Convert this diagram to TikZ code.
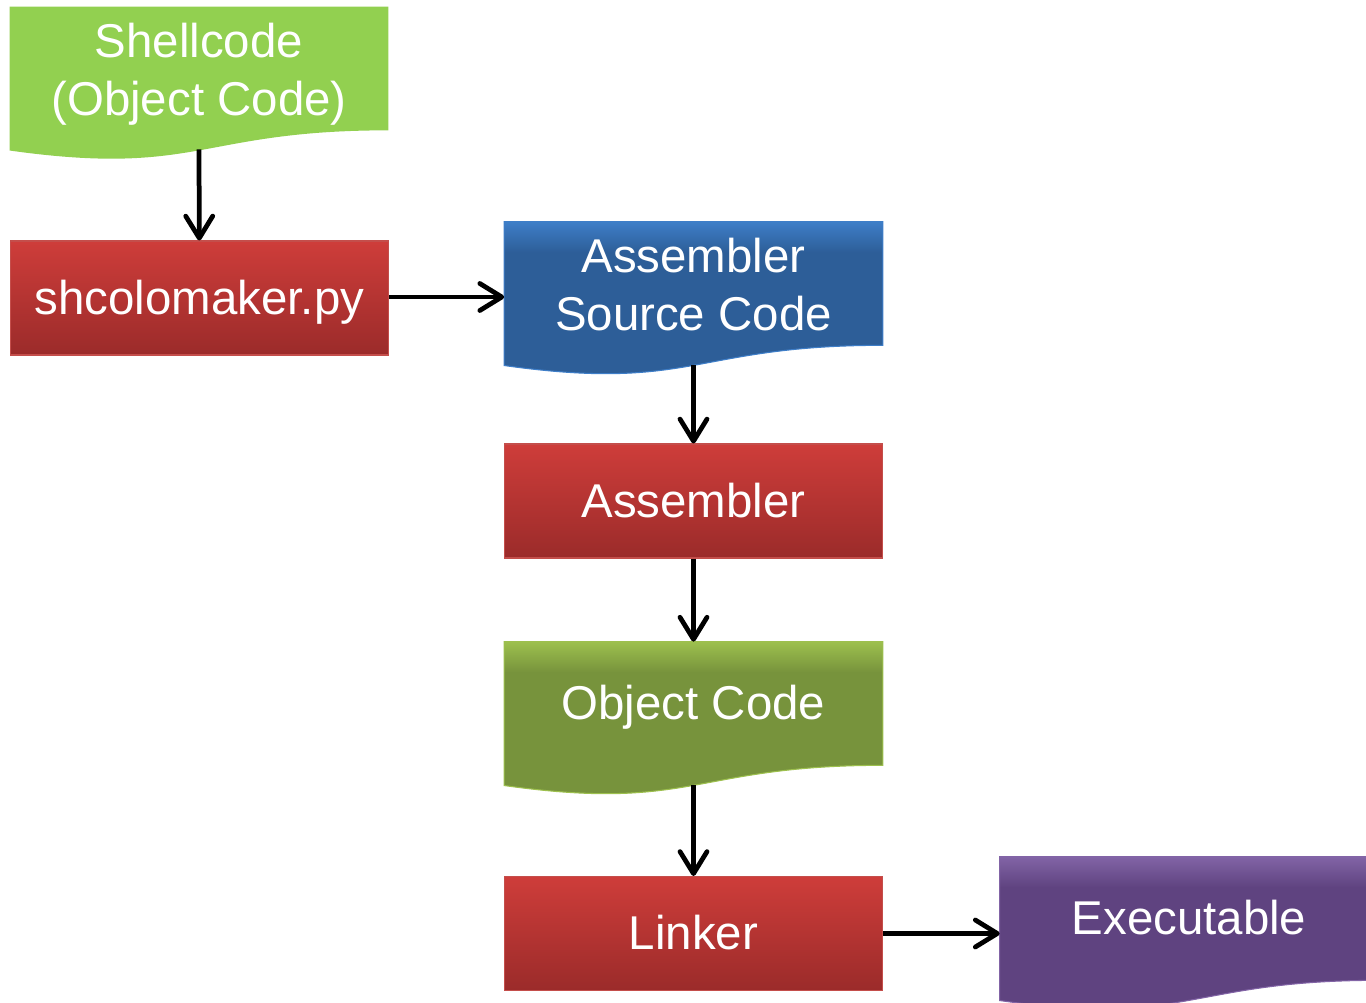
\documentclass[tikz,border=0pt]{standalone}
\usepackage{fontspec}
\setmainfont{Liberation Sans}
\usetikzlibrary{arrows.meta, calc, backgrounds}

\definecolor{procTop}{RGB}{206,61,58}
\definecolor{procBot}{RGB}{155,43,42}
\definecolor{procLine}{RGB}{196,78,75}
\definecolor{shellGreen}{RGB}{146,208,80}
\definecolor{srcBlue}{RGB}{45,94,152}
\definecolor{srcBlueTop}{RGB}{62,126,200}
\definecolor{objGreen}{RGB}{119,147,60}
\definecolor{objGreenTop}{RGB}{157,192,78}
\definecolor{exePurple}{RGB}{95,67,128}
\definecolor{exePurpleTop}{RGB}{130,100,166}

\pgfdeclareverticalshading{srcShade}{100bp}{color(0bp)=(srcBlue); color(66bp)=(srcBlue); color(75bp)=(srcBlueTop); color(100bp)=(srcBlueTop)}
\pgfdeclareverticalshading{objShade}{100bp}{color(0bp)=(objGreen); color(66bp)=(objGreen); color(75bp)=(objGreenTop); color(100bp)=(objGreenTop)}
\pgfdeclareverticalshading{exeShade}{100bp}{color(0bp)=(exePurple); color(66bp)=(exePurple); color(75bp)=(exePurpleTop); color(100bp)=(exePurpleTop)}

% struts, so that nodes are centred on the line boxes and not on the ink
\newcommand\topStrut{\rule{0pt}{0.905em}}
\newcommand\botStrut{\rule[-0.212em]{0pt}{0pt}}
\newcommand\tallLine{\rule{0pt}{0.97em}}
% outline of a document: flat top, wavy bottom under the node
\newcommand\docpath[1]{(#1.north west) -- (#1.north east) -- (#1.south east)
  .. controls (#1.south) and ([yshift=-0.935cm]#1.south) .. ([yshift=-0.404cm]#1.south west) -- cycle}

\begin{document}
\begin{tikzpicture}[x=0.02cm, y=-0.02cm,
    every node/.style={text=white, align=center, font=\fontsize{27}{33}\selectfont,
      execute at begin node=\topStrut, execute at end node=\botStrut},
    proc/.style={rectangle, minimum width=7.58cm, minimum height=2.28cm, inner sep=0pt,
      top color=procTop, bottom color=procBot, draw=procLine, line width=0.6pt},
    doc/.style={rectangle, minimum width=7.56cm, minimum height=2.46cm, inner sep=0pt},
    flow/.style={-{Straight Barb[round, length=0.44cm, width=0.54cm]}, line width=0.095cm}]
  \useasboundingbox (0,0) rectangle (1366,1003);

  \node[doc] (shell) at (199,68.5) {\tallLine Shellcode\\(Object Code)};
  \node[proc] (shco) at (199.5,298) {shcolomaker.py};
  \node[doc] (asrc) at (693.5,283.5) {\tallLine Assembler\\Source Code};
  \node[proc] (asm) at (693.5,501) {Assembler};
  \node[doc] (obj) at (693.5,703.5) {Object Code};
  \node[proc] (link) at (693.5,933.5) {Linker};
  \node[doc] (exe) at (1189,918.5) {Executable};

  \begin{scope}[on background layer]
    \fill[shellGreen] \docpath{shell};
    \shade[shading=srcShade, draw=srcBlueTop, line width=0.6pt] \docpath{asrc};
    \shade[shading=objShade, draw=objGreenTop, line width=0.6pt] \docpath{obj};
    \shade[shading=exeShade, draw=exePurpleTop, line width=0.6pt] \docpath{exe};
  \end{scope}

  \draw[flow] ([yshift=-0.38cm]shell.south) -- (shco);
  \draw[flow] ([yshift=0.02cm]shco.east) -- ([yshift=0.02cm]shco.east -| asrc.west);
  \draw[flow] ([yshift=-0.4cm]asrc.south) -- (asm);
  \draw[flow] (asm) -- (obj);
  \draw[flow] ([yshift=-0.4cm]obj.south) -- (link);
  \draw[flow] (link.east) -- (link.east -| exe.west);
\end{tikzpicture}
\end{document}
